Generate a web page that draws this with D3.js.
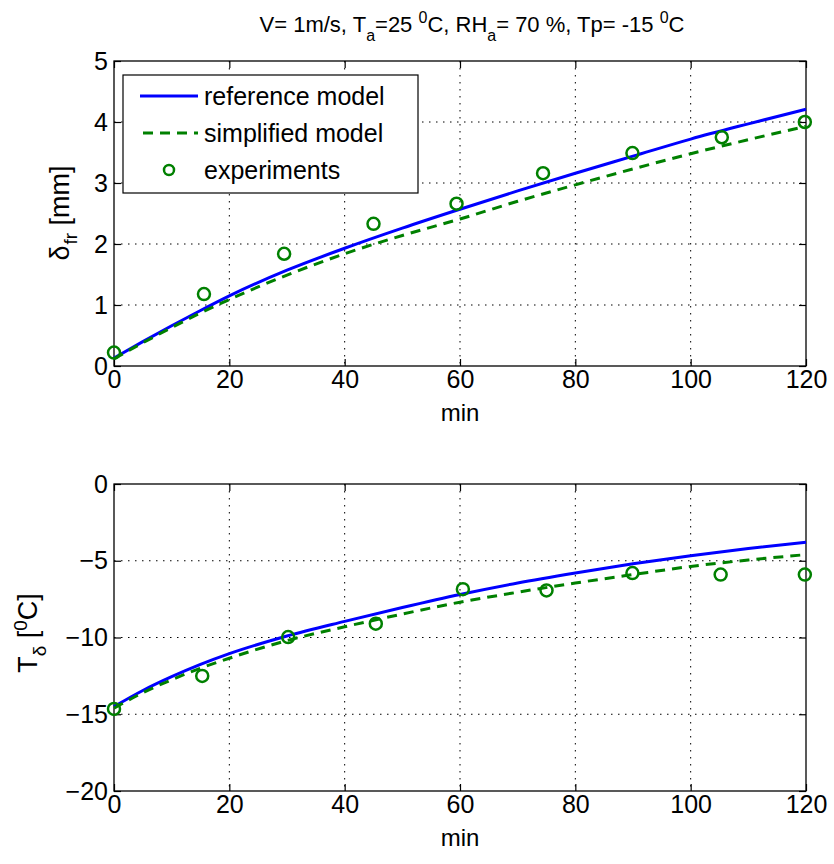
<!DOCTYPE html>
<html lang="en">
<head>
    <meta charset="utf-8">
    <title>Frost layer: thickness and surface temperature</title>
    <script src="https://d3js.org/d3.v7.min.js"></script>
    <style>
        body { margin: 0; background: #fff; }
        svg text {
            font-family: "Liberation Sans", Arial, sans-serif;
            fill: #000;
        }
        .grid line { stroke: #000; stroke-width: 1; stroke-dasharray: 1.5, 5.5; }
        .axis line { stroke: #000; stroke-width: 1.2; }
        .axis path { display: none; }
    </style>
</head>
<body>
    <svg id="chart"></svg>
    <script>
        // model curves
        var modelTime = [0, 5, 10, 15, 20, 30, 40, 50, 60, 70, 80, 90, 100, 110, 120];
        var thickRef  = [0.13, 0.40, 0.66, 0.91, 1.15, 1.57, 1.93, 2.26, 2.57, 2.87, 3.16, 3.44, 3.72, 3.97, 4.21];
        var thickSimp = [0.12, 0.38, 0.63, 0.87, 1.09, 1.49, 1.84, 2.14, 2.41, 2.70, 2.97, 3.23, 3.48, 3.71, 3.93];
        var tempRef   = [-14.5, -13.45, -12.55, -11.75, -11.05, -9.9, -8.95, -8.05, -7.2, -6.45, -5.8, -5.2, -4.67, -4.2, -3.8];
        var tempSimp  = [-14.6, -13.6, -12.75, -12.0, -11.35, -10.2, -9.3, -8.47, -7.7, -7.05, -6.45, -5.9, -5.37, -4.95, -4.6];

        // experiments
        var expTimeTop = [0, 15.6, 29.5, 45, 59.4, 74.4, 89.9, 105.4, 119.8];
        var expThick   = [0.22, 1.18, 1.84, 2.33, 2.66, 3.16, 3.49, 3.75, 4.0];
        var expTimeBot = [0, 15.3, 30.2, 45.4, 60.5, 75, 89.9, 105.2, 119.8];
        var expTemp    = [-14.65, -12.5, -9.97, -9.1, -6.85, -6.93, -5.8, -5.9, -5.9];

        // tick labels
        var xTicks = [0, 20, 40, 60, 80, 100, 120];
        var thickTicks = [0, 1, 2, 3, 4, 5];
        var tempTicks = [-20, -15, -10, -5, 0];

        var legendNames = ["reference model", "simplified model", "experiments"];

        var width = 834, height = 864;
        var left = 114, right = 806;
        var blue = "#0000ff", green = "#008000";

        var svg = d3.select("#chart")
            .attr("width", width)
            .attr("height", height);

        var x = d3.scaleLinear().domain([0, 120]).range([left, right]);

        function zip(xs, ys) {
            return xs.map(function (d, i) { return [d, ys[i]]; });
        }

        function panel(top, bottom, yDomain, yTicks, refVals, simpVals, expT, expV) {
            var y = d3.scaleLinear().domain(yDomain).range([bottom, top]);
            var g = svg.append("g");

            // grid
            var grid = g.append("g").attr("class", "grid");
            grid.selectAll(".gx").data(xTicks.slice(1, -1)).enter().append("line")
                .attr("x1", function (d) { return x(d); })
                .attr("x2", function (d) { return x(d); })
                .attr("y1", top).attr("y2", bottom);
            grid.selectAll(".gy").data(yTicks.slice(1, -1)).enter().append("line")
                .attr("y1", function (d) { return y(d); })
                .attr("y2", function (d) { return y(d); })
                .attr("x1", left).attr("x2", right);

            // inward ticks on all four sides
            g.append("g").attr("class", "axis")
                .attr("transform", "translate(0," + bottom + ")")
                .style("font-size", "25px")
                .call(d3.axisBottom(x).tickValues(xTicks).tickFormat(d3.format("d"))
                    .tickSize(-7).tickPadding(4));
            g.append("g").attr("class", "axis")
                .attr("transform", "translate(0," + top + ")")
                .call(d3.axisTop(x).tickValues(xTicks).tickSize(-7).tickFormat(""));
            g.append("g").attr("class", "axis")
                .attr("transform", "translate(" + left + ",0)")
                .style("font-size", "25px")
                .call(d3.axisLeft(y).tickValues(yTicks).tickFormat(d3.format("d"))
                    .tickSize(-7).tickPadding(6));
            g.append("g").attr("class", "axis")
                .attr("transform", "translate(" + right + ",0)")
                .call(d3.axisRight(y).tickValues(yTicks).tickSize(-7).tickFormat(""));
            g.selectAll(".axis text").attr("font-family", null);

            g.append("rect")
                .attr("x", left).attr("y", top)
                .attr("width", right - left).attr("height", bottom - top)
                .attr("fill", "none").attr("stroke", "#000").attr("stroke-width", 1.3);

            var line = d3.line()
                .x(function (d) { return x(d[0]); })
                .y(function (d) { return y(d[1]); })
                .curve(d3.curveMonotoneX);

            g.append("path").datum(zip(modelTime, refVals))
                .attr("d", line).attr("fill", "none")
                .attr("stroke", blue).attr("stroke-width", 3);
            g.append("path").datum(zip(modelTime, simpVals))
                .attr("d", line).attr("fill", "none")
                .attr("stroke", green).attr("stroke-width", 3)
                .attr("stroke-dasharray", "10,7");

            g.selectAll(".exp").data(zip(expT, expV)).enter().append("circle")
                .attr("cx", function (d) { return x(d[0]); })
                .attr("cy", function (d) { return y(d[1]); })
                .attr("r", 6)
                .attr("fill", "none").attr("stroke", green).attr("stroke-width", 2.5);

            // x label
            g.append("text")
                .attr("x", (left + right) / 2).attr("y", bottom + 55)
                .attr("text-anchor", "middle").style("font-size", "24px")
                .text("min");
            return g;
        }

        var topPanel = panel(61, 366, [0, 5], thickTicks, thickRef, thickSimp, expTimeTop, expThick);
        var botPanel = panel(484, 791, [-20, 0], tempTicks, tempRef, tempSimp, expTimeBot, expTemp);

        // title
        var title = svg.append("text")
            .attr("x", 472).attr("y", 32)
            .attr("text-anchor", "middle").style("font-size", "22px");
        title.append("tspan").text("V= 1m/s, T");
        title.append("tspan").attr("dy", 9).style("font-size", "16px").text("a");
        title.append("tspan").attr("dy", -9).text("=25 ");
        title.append("tspan").attr("dy", -9).style("font-size", "16px").text("0");
        title.append("tspan").attr("dy", 9).text("C, RH");
        title.append("tspan").attr("dy", 9).style("font-size", "16px").text("a");
        title.append("tspan").attr("dy", -9).text("= 70 %, Tp= -15 ");
        title.append("tspan").attr("dy", -9).style("font-size", "16px").text("0");
        title.append("tspan").attr("dy", 9).text("C");

        // y labels
        var yl1 = svg.append("text")
            .attr("transform", "translate(69,213) rotate(-90)")
            .attr("text-anchor", "middle").style("font-size", "27px");
        yl1.append("tspan").text("\u03b4");
        yl1.append("tspan").attr("dx", 1).attr("dy", 8).style("font-size", "19px").text("fr");
        yl1.append("tspan").attr("dy", -8).text(" [mm]");

        var yl2 = svg.append("text")
            .attr("transform", "translate(37,633) rotate(-90)")
            .attr("text-anchor", "middle").style("font-size", "27px");
        yl2.append("tspan").text("T");
        yl2.append("tspan").attr("dy", 9).style("font-size", "19px").text("\u03b4");
        yl2.append("tspan").attr("dy", -9).text(" [");
        yl2.append("tspan").attr("dy", -10).style("font-size", "19px").text("0");
        yl2.append("tspan").attr("dy", 10).text("C]");

        // legend
        var lg = svg.append("g");
        lg.append("rect")
            .attr("x", 123).attr("y", 75).attr("width", 295).attr("height", 118)
            .attr("fill", "#fff").attr("stroke", "#000").attr("stroke-width", 1.2);
        var rows = [96, 133, 170];
        lg.append("line").attr("x1", 140).attr("x2", 198).attr("y1", rows[0]).attr("y2", rows[0])
            .attr("stroke", blue).attr("stroke-width", 3);
        lg.append("line").attr("x1", 143).attr("x2", 198).attr("y1", rows[1]).attr("y2", rows[1])
            .attr("stroke", green).attr("stroke-width", 3).attr("stroke-dasharray", "10,7");
        lg.append("circle").attr("cx", 169).attr("cy", rows[2]).attr("r", 5)
            .attr("fill", "none").attr("stroke", green).attr("stroke-width", 2.5);
        lg.selectAll(".lt").data(legendNames).enter().append("text")
            .attr("x", 204)
            .attr("y", function (d, i) { return rows[i]; })
            .attr("dy", "0.35em")
            .style("font-size", "25px")
            .text(function (d) { return d; });
    </script>
</body>
</html>
